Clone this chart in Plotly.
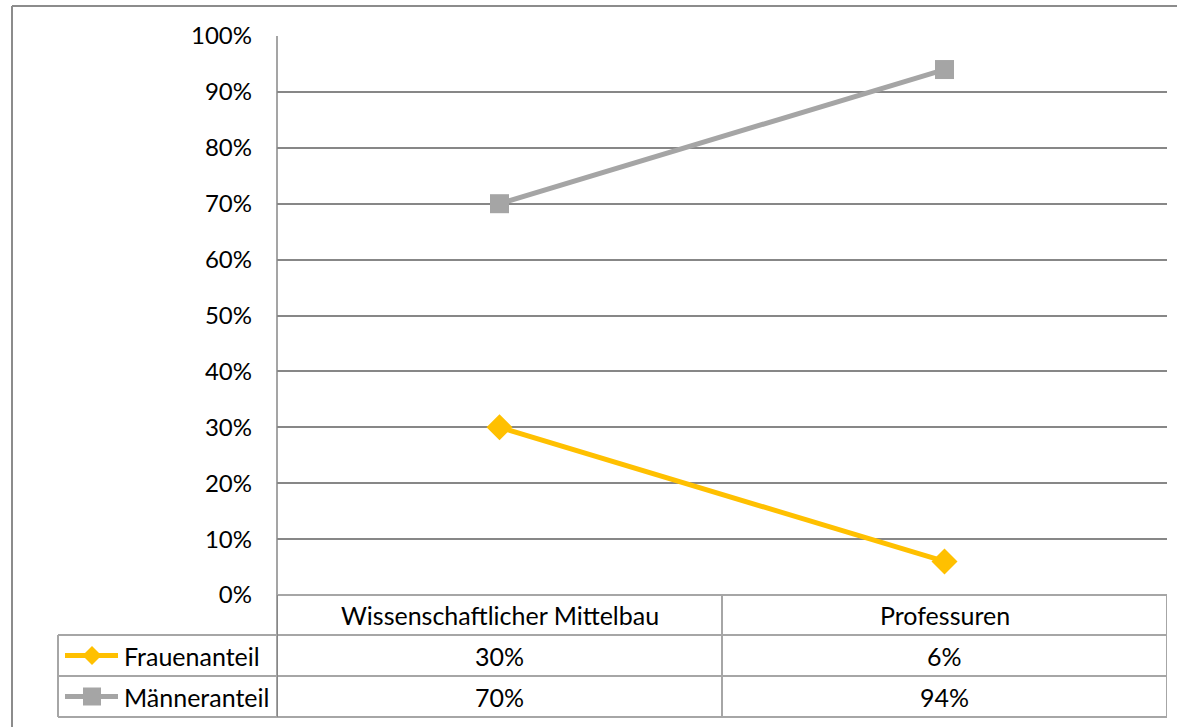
import plotly.graph_objects as go

categories = ["Wissenschaftlicher Mittelbau", "Professuren"]
series_names = ["Frauenanteil", "Männeranteil"]
frauen = [0.30, 0.06]
maenner = [0.70, 0.94]
series_values = [frauen, maenner]
series_colors = ["#FFC000", "#A5A5A5"]
series_symbols = ["diamond", "square"]
y_ticks = [i / 10 for i in range(11)]

W, H = 1177, 727
FONT = "Lato"
FS = 25
FS_TICK = 24


def px(x):
    return x / W


def py(y):
    return 1 - y / H


plot_left, plot_right, plot_top, plot_bottom = 277, 1167, 36, 595
row_edges = [595, 635, 676, 717]
legend_left = 58

fig = go.Figure()
for name, vals, col, sym in zip(series_names, series_values, series_colors, series_symbols):
    fig.add_trace(go.Scatter(
        x=categories, y=vals, name=name, mode="lines+markers",
        line=dict(color=col, width=5),
        marker=dict(symbol=sym, size=20 if sym == "diamond" else 19, color=col,
                    line=dict(width=0)),
        showlegend=False, cliponaxis=False,
    ))

grid_col = "#878787"
tab_col = "#A6A6A6"

shapes = []
# outer chart border (only top and left visible in the frame)
shapes.append(dict(type="line", xref="paper", yref="paper", x0=px(12), x1=1.0,
                   y0=py(6), y1=py(6), line=dict(color="#8C8C8C", width=2), layer="below"))
shapes.append(dict(type="line", xref="paper", yref="paper", x0=px(12), x1=px(12),
                   y0=0, y1=py(6), line=dict(color="#8C8C8C", width=2), layer="below"))
# left axis line through table
shapes.append(dict(type="line", xref="paper", yref="paper", x0=px(plot_left), x1=px(plot_left),
                   y0=py(row_edges[-1]), y1=py(plot_top), line=dict(color=grid_col, width=1.5)))
# table horizontal lines
for i, ry in enumerate(row_edges):
    x0 = plot_left if i == 0 else legend_left
    shapes.append(dict(type="line", xref="paper", yref="paper", x0=px(x0), x1=px(plot_right),
                       y0=py(ry), y1=py(ry), line=dict(color=tab_col, width=2)))
# legend column left edge
shapes.append(dict(type="line", xref="paper", yref="paper", x0=px(legend_left), x1=px(legend_left),
                   y0=py(row_edges[1]), y1=py(row_edges[-1]), line=dict(color=tab_col, width=2)))
# column dividers (in category coordinates)
for k in range(len(categories) + 1):
    xv = k - 0.5
    shapes.append(dict(type="line", xref="x", yref="paper", x0=xv, x1=xv,
                       y0=py(row_edges[-1]), y1=py(row_edges[0]),
                       line=dict(color=tab_col if k > 0 else grid_col, width=2)))

annotations = []
# header
for c in categories:
    annotations.append(dict(x=c, y=py((row_edges[0] + row_edges[1]) / 2), xref="x", yref="paper",
                            text=c, showarrow=False, font=dict(family=FONT, size=FS, color="#000"),
                            xanchor="center", yanchor="middle"))
# rows
for r, (name, vals, col, sym) in enumerate(zip(series_names, series_values, series_colors, series_symbols)):
    yc = (row_edges[r + 1] + row_edges[r + 2]) / 2
    for c, v in zip(categories, vals):
        annotations.append(dict(x=c, y=py(yc), xref="x", yref="paper", text=f"{round(v*100)}%",
                                showarrow=False, font=dict(family=FONT, size=FS, color="#000"),
                                xanchor="center", yanchor="middle"))
    annotations.append(dict(x=px(122), y=py(yc), xref="paper", yref="paper", text=name,
                            showarrow=False, font=dict(family=FONT, size=FS, color="#000"),
                            xanchor="left", yanchor="middle"))
    # legend key line
    shapes.append(dict(type="line", xref="paper", yref="paper", x0=px(65), x1=px(118),
                       y0=py(yc), y1=py(yc), line=dict(color=col, width=5)))
    cx = 92
    if sym == "diamond":
        d = 9.5
        path = (f"M {px(cx-d)} {py(yc)} L {px(cx)} {py(yc-d)} L {px(cx+d)} {py(yc)} "
                f"L {px(cx)} {py(yc+d)} Z")
        shapes.append(dict(type="path", xref="paper", yref="paper", path=path,
                           fillcolor=col, line=dict(width=0)))
    else:
        d = 9
        shapes.append(dict(type="rect", xref="paper", yref="paper", x0=px(cx - d), x1=px(cx + d),
                           y0=py(yc + d), y1=py(yc - d), fillcolor=col, line=dict(width=0)))

fig.update_layout(
    width=W, height=H, margin=dict(l=0, r=0, t=0, b=0, autoexpand=False),
    paper_bgcolor="white", plot_bgcolor="white",
    font=dict(family=FONT, size=FS, color="#000"),
    xaxis=dict(domain=[px(plot_left), px(plot_right)], type="category", automargin=False,
               range=[-0.5, len(categories) - 0.5], showticklabels=False,
               showgrid=False, zeroline=False, showline=False, fixedrange=True),
    yaxis=dict(domain=[py(plot_bottom), py(plot_top)], range=[0, 1], automargin=False,
               tickvals=y_ticks, tickformat=".0%", showgrid=True, gridcolor=grid_col,
               gridwidth=1.5, zeroline=False, showline=False, ticks="",
               ticklabelstandoff=24, tickfont=dict(family=FONT, size=FS_TICK, color="#000")),
    shapes=shapes, annotations=annotations,
)

fig.write_html("out.html")
